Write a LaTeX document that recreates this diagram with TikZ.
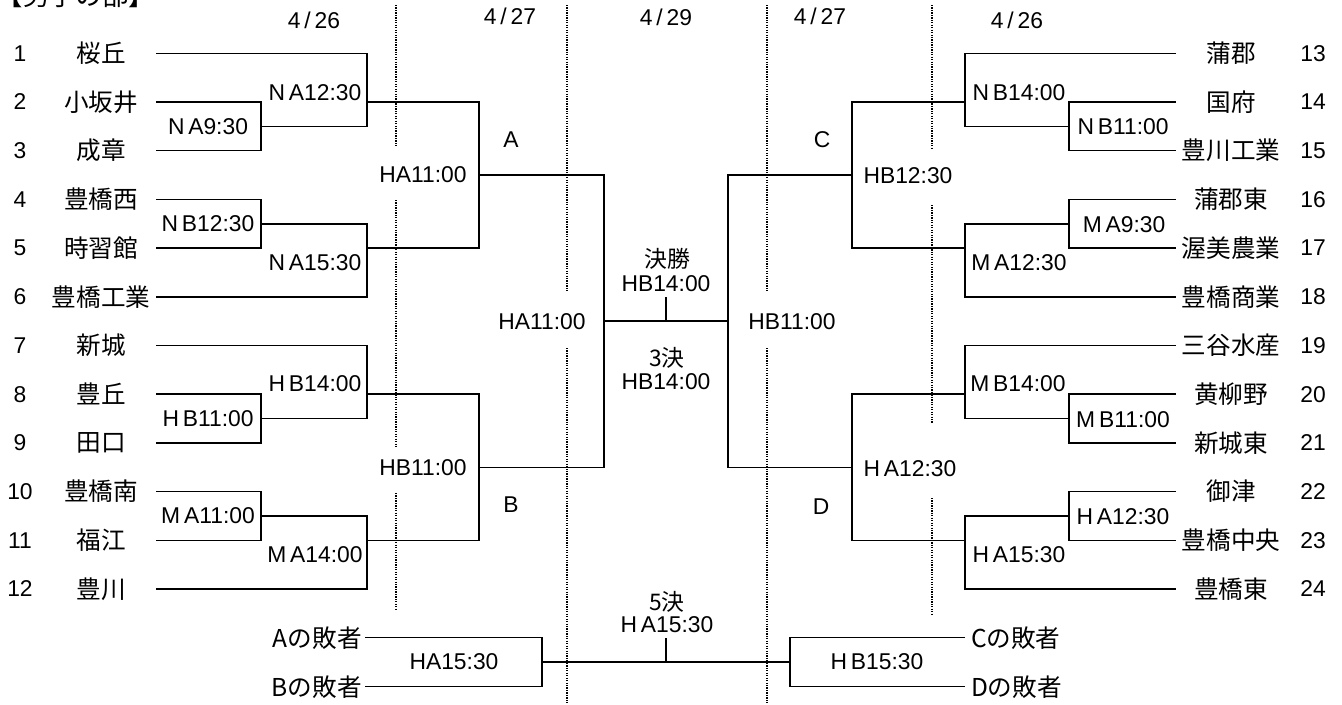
\documentclass[tikz,border=0pt]{standalone}
\usepackage{fontspec}
\setmainfont{Liberation Sans}
\newfontfamily\jpfont{Noto Sans CJK JP}
\usetikzlibrary{positioning}

\begin{document}
\begin{tikzpicture}[x=0.02cm, y=-0.02cm, line width=0.85pt,
    every node/.style={inner sep=0pt},
    num/.style={font=\fontsize{13}{15}\selectfont},
    team/.style={font=\jpfont\fontsize{14}{16}\selectfont},
    game/.style={font=\fontsize{13}{15}\selectfont},
    kanji/.style={font=\jpfont\fontsize{13}{15}\selectfont},
    daylabel/.style={font=\fontsize{13}{15}\selectfont},
    dayline/.style={line width=0.95pt, dash pattern=on 0.7pt off 0.7pt}]
    \useasboundingbox (0,0) rectangle (1342,704);

    % Title and days
    \node[team, font=\jpfont\fontsize{15}{17}\selectfont, anchor=base west] (title) at (-4,5) {【男子の部】};
    \node[daylabel] (day1) at (314,20) {4\,/\,26};
    \node[daylabel] (day2) at (510,16) {4\,/\,27};
    \node[daylabel] (day3) at (666,17) {4\,/\,29};
    \node[daylabel] (day4) at (820,16) {4\,/\,27};
    \node[daylabel] (day5) at (1017,20) {4\,/\,26};

    % Day borders
    \draw[dayline] (396,5) -- (396,147) (396,200) -- (396,447) (396,493) -- (396,611);
    \draw[dayline] (567,5) -- (567,291) (567,348) -- (567,704);
    \draw[dayline] (767,5) -- (767,291) (767,348) -- (767,704);
    \draw[dayline] (932,5) -- (932,149) (932,205) -- (932,423) (932,498) -- (932,615);

    % Teams
    \foreach \name [count=\i] in {桜丘,小坂井,成章,豊橋西,時習館,豊橋工業,新城,豊丘,田口,豊橋南,福江,豊川} {
        \node[num] (k\i) at (20,{4.6+48.7*\i}) {\i};
        \node[team] (n\i) at (101,{4.6+48.7*\i}) {\name};
        \coordinate (L\i) at (156,{4.6+48.7*\i});
    }
    \foreach \j/\name [count=\i] in {13/蒲郡,14/国府,15/豊川工業,16/蒲郡東,17/渥美農業,18/豊橋商業,
                                    19/三谷水産,20/黄柳野,21/新城東,22/御津,23/豊橋中央,24/豊橋東} {
        \node[num] (k\j) at (1313,{4.6+48.7*\i}) {\j};
        \node[team] (n\j) at (1231,{4.6+48.7*\i}) {\name};
        \coordinate (R\j) at (1176,{4.6+48.7*\i});
    }

    % Junctions
    \coordinate (a1) at (261,126.4);
    \coordinate (a2) at (261,223.8);
    \coordinate (a3) at (261,418.6);
    \coordinate (a4) at (261,516);
    \coordinate (b1) at (367,102);
    \coordinate (b2) at (367,248.1);
    \coordinate (b3) at (367,394.2);
    \coordinate (b4) at (367,540.3);
    \coordinate (qa) at (479,175.1);
    \coordinate (qb) at (479,467.3);
    \coordinate (sl) at (604,321.2);
    \coordinate (c1) at (1069,126.4);
    \coordinate (c2) at (1069,223.8);
    \coordinate (c3) at (1069,418.6);
    \coordinate (c4) at (1069,516);
    \coordinate (d1) at (965,102);
    \coordinate (d2) at (965,248.1);
    \coordinate (d3) at (965,394.2);
    \coordinate (d4) at (965,540.3);
    \coordinate (qc) at (852,175.1);
    \coordinate (qd) at (852,467.3);
    \coordinate (sr) at (728,321.2);
    \coordinate (fin) at (666,321.2);
    \coordinate (ft) at (666,297);

    % Left side
    \draw (L2) -| (a1) |- (L3);
    \draw (L4) -| (a2) |- (L5);
    \draw (L8) -| (a3) |- (L9);
    \draw (L10) -| (a4) |- (L11);
    \draw (L1) -| (b1 |- a1) -- (a1);
    \draw (a2) -| (b2 |- L6) -- (L6);
    \draw (L7) -| (b3 |- a3) -- (a3);
    \draw (a4) -| (b4 |- L12) -- (L12);
    \draw (b1) -| (qa) |- (b2);
    \draw (b3) -| (qb) |- (b4);
    \draw (qa) -| (sl) |- (qb);

    % Right side
    \draw (R14) -| (c1) |- (R15);
    \draw (R16) -| (c2) |- (R17);
    \draw (R20) -| (c3) |- (R21);
    \draw (R22) -| (c4) |- (R23);
    \draw (R13) -| (d1 |- c1) -- (c1);
    \draw (c2) -| (d2 |- R18) -- (R18);
    \draw (R19) -| (d3 |- c3) -- (c3);
    \draw (c4) -| (d4 |- R24) -- (R24);
    \draw (d1) -| (qc) |- (d2);
    \draw (d3) -| (qd) |- (d4);
    \draw (qc) -| (sr) |- (qd);

    % Final
    \draw (sl) -- (sr);
    \draw (fin) -- (ft);

    % Game labels
    \node[game] (g1) at (208,126.4) {N\,A9:30};
    \node[game] (g2) at (208,223.8) {N\,B12:30};
    \node[game] (g3) at (208,418.6) {H\,B11:00};
    \node[game] (g4) at (208,516) {M\,A11:00};
    \node[game] (g5) at (315,92.5) {N\,A12:30};
    \node[game] (g6) at (315,262.5) {N\,A15:30};
    \node[game] (g7) at (315,384) {H\,B14:00};
    \node[game] (g8) at (315,555) {M\,A14:00};
    \node[game] (g9) at (1123,126.4) {N\,B11:00};
    \node[game] (g10) at (1124,224.5) {M\,A9:30};
    \node[game] (g11) at (1123,419.5) {M\,B11:00};
    \node[game] (g12) at (1123,516.5) {H\,A12:30};
    \node[game] (g13) at (1019,92.5) {N\,B14:00};
    \node[game] (g14) at (1019,262.5) {M\,A12:30};
    \node[game] (g15) at (1018,384) {M\,B14:00};
    \node[game] (g16) at (1019,555) {H\,A15:30};
    \node[game] (q1) at (423,175.1) {HA11:00};
    \node[game] (q2) at (423,467.3) {HB11:00};
    \node[game] (q3) at (908,175.6) {HB12:30};
    \node[game] (q4) at (910,469) {H\,A12:30};
    \node[game] (s1) at (542,321.2) {HA11:00};
    \node[game] (s2) at (792,321.2) {HB11:00};
    \node[game] (blockA) at (511,140) {A};
    \node[game] (blockB) at (511,505) {B};
    \node[game] (blockC) at (822,140) {C};
    \node[game] (blockD) at (821,507) {D};
    \node[kanji] (f1) at (667,259) {決勝};
    \node[game] (f1t) at (666,284) {HB14:00};
    \node[kanji] (f3) at (667,358) {3決};
    \node[game] (f3t) at (666,382) {HB14:00};

    % Fifth place
    \coordinate (la) at (365,637.7);
    \coordinate (lb) at (365,686.7);
    \coordinate (cl) at (542,662.2);
    \coordinate (rc) at (965,637.7);
    \coordinate (rd) at (965,686.7);
    \coordinate (cr) at (790,662.2);
    \coordinate (fifth) at (666,662.2);
    \coordinate (fifthtop) at (666,638);
    \node[team, left=1.5pt of la] (lossA) {Aの敗者};
    \node[team, left=1.5pt of lb] (lossB) {Bの敗者};
    \node[team, right=3pt of rc] (lossC) {Cの敗者};
    \node[team, right=3pt of rd] (lossD) {Dの敗者};
    \draw (la) -| (cl) |- (lb);
    \draw (rc) -| (cr) |- (rd);
    \draw (cl) -- (cr);
    \draw (fifth) -- (fifthtop);
    \node[game] (p1) at (454,662) {HA15:30};
    \node[game] (p2) at (877,662) {H\,B15:30};
    \node[kanji] (f5) at (667,602) {5決};
    \node[game] (f5t) at (667,625) {H\,A15:30};
\end{tikzpicture}
\end{document}
